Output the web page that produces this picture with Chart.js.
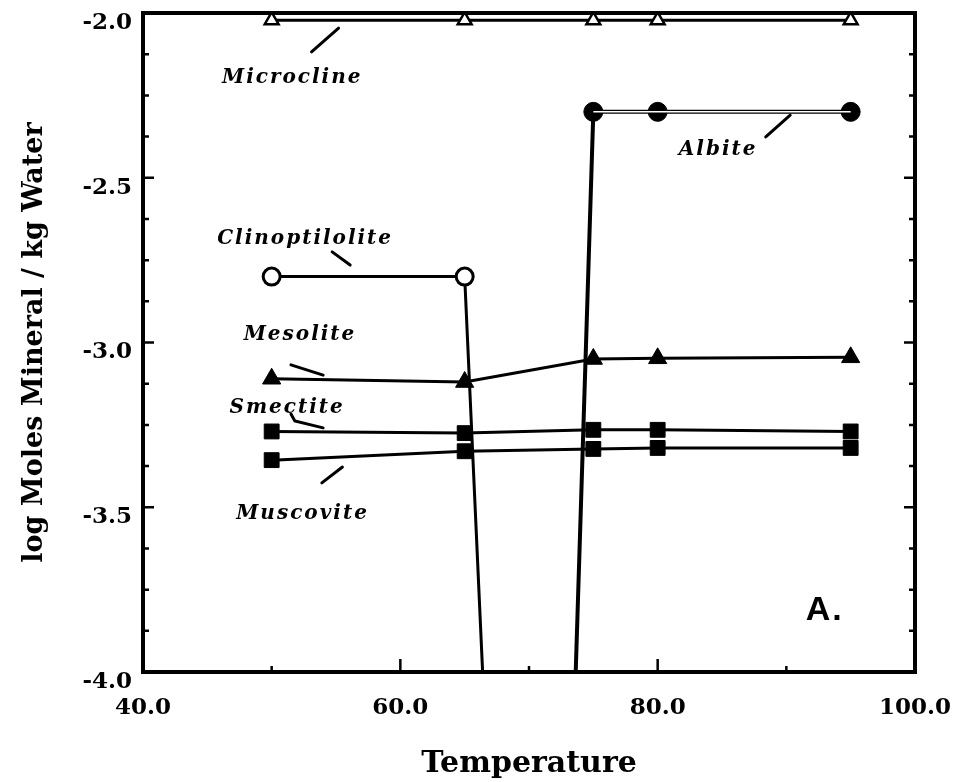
<!DOCTYPE html>
<html>
<head>
<meta charset="utf-8">
<script src="https://cdn.jsdelivr.net/npm/chart.js@4.4.1/dist/chart.umd.min.js"></script>
<style>
  html, body { margin: 0; padding: 0; background: #fff; }
  #wrap { width: 975px; height: 782px; }
</style>
</head>
<body>
<div id="wrap"><canvas id="chart" width="975" height="782"></canvas></div>
<script>
// --- data ---
const temps        = [50, 65, 75, 80, 95];
const microcline   = [-2.022, -2.022, -2.022, -2.022, -2.022];
const mesolite     = [-3.11, -3.12, -3.05, -3.048, -3.045];
const smectite     = [-3.27, -3.275, -3.265, -3.265, -3.27];
const muscovite    = [-3.357, -3.33, -3.323, -3.32, -3.32];

const albiteTemps  = [70, 75, 80, 95];
const albite       = [-8.5, -2.30, -2.30, -2.30];
const clinoTemps   = [50, 65, 70];
const clino        = [-2.80, -2.80, -7.1];

const xMin = 40, xMax = 100, xLabelStep = 20, xMinorStep = 10;
const yMin = -4.0, yMax = -2.0, yLabelStep = 0.5, yMinorStep = 0.125;

// label text, anchor (data coords) and leader line (data coords)
const annotations = [
  { text: 'Microcline',     x: 51.6,  y: -2.212, leader: [[53.1, -2.118], [55.2, -2.046]] },
  { text: 'Albite',         x: 84.7,  y: -2.431, leader: [[88.4, -2.376], [90.3, -2.310]] },
  { text: 'Clinoptilolite', x: 52.6,  y: -2.701, leader: [[54.7, -2.725], [56.1, -2.765]] },
  { text: 'Mesolite',       x: 52.2,  y: -2.992, leader: [[51.5, -3.068], [54.0, -3.099]] },
  { text: 'Smectite',       x: 51.2,  y: -3.214, leader: [[51.5, -3.217], [51.8, -3.238], [54.0, -3.259]] },
  { text: 'Muscovite',      x: 52.4,  y: -3.536, leader: [[53.9, -3.426], [55.5, -3.378]] }
];
const panelLabel = { text: 'A.', x: 91.5, y: -3.842 };

const pts = (xs, ys) => xs.map((x, i) => ({ x, y: ys[i] }));
const albitePts = pts(albiteTemps, albite);

const base = { showLine: true, tension: 0, borderColor: '#000', borderWidth: 3, order: 1,
               pointBorderColor: '#000', pointHoverRadius: 0, clip: 2 };

const SERIF = '"DejaVu Serif", "Liberation Serif", serif';

const framePlugin = {
  id: 'frame',
  afterDatasetsDraw(chart) {
    const { ctx, chartArea: a, scales: { x, y } } = chart;
    ctx.save();
    ctx.strokeStyle = '#000';
    ctx.lineCap = 'butt';
    // inward ticks, left and right
    ctx.lineWidth = 2.5;
    for (let v = yMin + yMinorStep; v < yMax - 1e-9; v += yMinorStep) {
      const py = y.getPixelForValue(v);
      const major = Math.abs(v / yLabelStep - Math.round(v / yLabelStep)) < 1e-6;
      const len = major ? 11 : 6;
      ctx.beginPath();
      ctx.moveTo(a.left, py); ctx.lineTo(a.left + len, py);
      ctx.moveTo(a.right, py); ctx.lineTo(a.right - len, py);
      ctx.stroke();
    }
    // inward ticks, bottom
    for (let v = xMin + xMinorStep; v < xMax; v += xMinorStep) {
      const px = x.getPixelForValue(v);
      const len = (v % xLabelStep === 0) ? 13 : 6;
      ctx.beginPath();
      ctx.moveTo(px, a.bottom); ctx.lineTo(px, a.bottom - len);
      ctx.stroke();
    }
    ctx.lineWidth = 4;
    ctx.strokeRect(a.left, a.top, a.right - a.left, a.bottom - a.top);

    // annotations
    ctx.fillStyle = '#000';
    ctx.lineWidth = 3;
    ctx.lineCap = 'round';
    ctx.font = 'italic bold 20px ' + SERIF;
    ctx.letterSpacing = '2px';
    ctx.textAlign = 'center';
    ctx.textBaseline = 'alphabetic';
    annotations.forEach(an => {
      ctx.fillText(an.text, x.getPixelForValue(an.x), y.getPixelForValue(an.y));
      ctx.beginPath();
      an.leader.forEach(([lx, ly], i) => {
        const px = x.getPixelForValue(lx), py = y.getPixelForValue(ly);
        i ? ctx.lineTo(px, py) : ctx.moveTo(px, py);
      });
      ctx.stroke();
    });
    ctx.letterSpacing = '2px';
    ctx.font = 'bold 34px "Liberation Sans", Arial, sans-serif';
    ctx.textAlign = 'left';
    ctx.fillText(panelLabel.text, x.getPixelForValue(panelLabel.x), y.getPixelForValue(panelLabel.y));
    ctx.restore();
  }
};

new Chart(document.getElementById('chart'), {
  type: 'scatter',
  data: {
    datasets: [
      { ...base, label: 'Albite stripe', data: albitePts.filter(p => p.y >= yMin),
        borderColor: '#fff', borderWidth: 1.5, pointRadius: 0, order: 0 },
      { ...base, label: 'Microcline', data: pts(temps, microcline),
        pointStyle: 'triangle', pointRadius: 8, pointBackgroundColor: '#fff', pointBorderWidth: 2.5 },
      { ...base, label: 'Albite', data: albitePts, borderWidth: 4,
        pointStyle: 'circle', pointRadius: 9.5, pointBackgroundColor: '#000', pointBorderWidth: 1 },
      { ...base, label: 'Clinoptilolite', data: pts(clinoTemps, clino),
        pointStyle: 'circle', pointRadius: 8.5, pointBackgroundColor: '#fff', pointBorderWidth: 3 },
      { ...base, label: 'Mesolite', data: pts(temps, mesolite),
        pointStyle: 'triangle', pointRadius: 10.5, pointBackgroundColor: '#000', pointBorderWidth: 1 },
      { ...base, label: 'Smectite', data: pts(temps, smectite),
        pointStyle: 'rect', pointRadius: 10.5, pointBackgroundColor: '#000', pointBorderWidth: 1 },
      { ...base, label: 'Muscovite', data: pts(temps, muscovite),
        pointStyle: 'rect', pointRadius: 10.5, pointBackgroundColor: '#000', pointBorderWidth: 1 }
    ]
  },
  options: {
    responsive: false,
    animation: false,
    devicePixelRatio: 1,
    layout: { padding: { top: 13, right: 60, left: 0, bottom: 0 } },
    plugins: { legend: { display: false }, tooltip: { enabled: false } },
    scales: {
      x: {
        type: 'linear', min: xMin, max: xMax,
        grid: { display: false, drawTicks: false },
        border: { display: false },
        ticks: { stepSize: xLabelStep, padding: 22, color: '#000',
                 font: { family: SERIF, size: 23, weight: 'bold' },
                 callback: v => v.toFixed(1) },
        title: { display: true, text: 'Temperature', color: '#000',
                 font: { family: SERIF, size: 30, weight: 'bold' }, padding: { top: 0, bottom: 0 } },
        afterFit: s => { s.height = 110; s.paddingLeft = 0; s.paddingRight = 0; }
      },
      y: {
        type: 'linear', min: yMin, max: yMax,
        grid: { display: false, drawTicks: false },
        border: { display: false },
        ticks: { stepSize: yLabelStep, padding: 11, labelOffset: 10, color: '#000',
                 font: { family: SERIF, size: 23, weight: 'bold' },
                 callback: v => v.toFixed(1) },
        title: { display: true, text: 'log Moles Mineral / kg Water', color: '#000',
                 font: { family: SERIF, size: 27, weight: 'bold' }, padding: { top: 19, bottom: 0 } },
        afterFit: s => { s.width = 143; s.paddingTop = 0; s.paddingBottom = 0; }
      }
    }
  },
  plugins: [framePlugin]
});
</script>
</body>
</html>
